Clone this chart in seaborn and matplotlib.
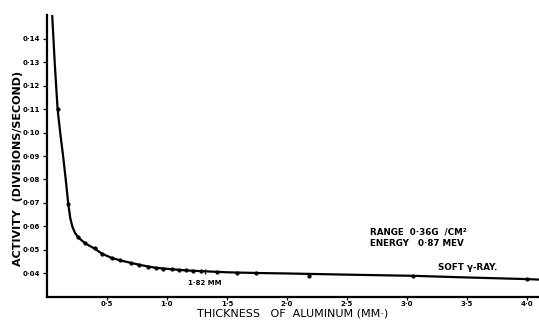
import matplotlib
matplotlib.use("Agg")
import matplotlib.pyplot as plt
import seaborn as sns
import pandas as pd

# Smooth absorption curve
curve_x = [0.044, 0.066, 0.089, 0.112, 0.135, 0.157, 0.178, 0.195, 0.213, 0.235,
           0.26, 0.32, 0.40, 0.46, 0.54, 0.61, 0.70, 0.77, 0.84,
           0.91, 1.04, 1.16, 1.28, 1.50, 1.75, 2.00, 2.50, 3.05, 3.50, 4.00, 4.10]
curve_y = [0.150, 0.129, 0.110, 0.0995, 0.090, 0.080, 0.0696, 0.0635, 0.0598, 0.0572,
           0.0554, 0.0528, 0.0505, 0.0484, 0.0466, 0.0456, 0.0445,
           0.0437, 0.0430, 0.0424, 0.0418, 0.0413, 0.0410, 0.0405, 0.0402, 0.0400,
           0.0395, 0.0390, 0.0383, 0.0376, 0.0374]

# Measured points
pts_x = [0.089, 0.178, 0.26, 0.317, 0.40, 0.46, 0.54, 0.61, 0.70, 0.77, 0.84,
         0.91, 0.97, 1.04, 1.10, 1.16, 1.22, 1.28, 1.42, 1.58, 1.74, 2.18, 3.05, 4.00]
pts_y = [0.110, 0.0696, 0.0554, 0.0528, 0.0507, 0.0484, 0.0466, 0.0456, 0.0444,
         0.0437, 0.0429, 0.0423, 0.0420, 0.0418, 0.0415, 0.0413, 0.0411, 0.0410,
         0.0407, 0.0404, 0.0402, 0.0391, 0.0389, 0.0376]

y_ticks = [0.04, 0.05, 0.06, 0.07, 0.08, 0.09, 0.10, 0.11, 0.12, 0.13, 0.14]
y_labels = ["0·04", "0·05", "0·06", "0·07", "0·08", "0·09", "0·10", "0·11", "0·12", "0·13", "0·14"]
x_ticks = [0.5, 1.0, 1.5, 2.0, 2.5, 3.0, 3.5, 4.0]
x_labels = ["0·5", "1·0", "1·5", "2·0", "2·5", "3·0", "3·5", "4·0"]

half_x = 1.32
half_label = "1·82 MM"

sns.set_theme(style="white")
plt.rcParams["font.family"] = ["DejaVu Sans"]
plt.rcParams["text.color"] = "black"
plt.rcParams["xtick.color"] = "black"
plt.rcParams["ytick.color"] = "black"

fig = plt.figure(figsize=(5.39, 3.2), dpi=100)
ax = fig.add_axes([0.087, 0.072, 0.913, 0.881])

curve = pd.DataFrame({"x": curve_x, "y": curve_y})
pts = pd.DataFrame({"x": pts_x, "y": pts_y})

sns.lineplot(data=curve, x="x", y="y", ax=ax, color="black", lw=1.6,
             sort=False, estimator=None)
sns.scatterplot(data=pts, x="x", y="y", ax=ax, color="black", s=7,
                edgecolor="black", linewidth=0.3, zorder=3)
ax.vlines(half_x, 0.0398, 0.0420, color="black", lw=0.9)

ax.set_xlim(0, 4.1)
ax.set_ylim(0.03, 0.15)

for s in ["top", "right"]:
    ax.spines[s].set_visible(False)
for s in ["left", "bottom"]:
    ax.spines[s].set_color("black")
    ax.spines[s].set_linewidth(1.6)

ax.set_yticks(y_ticks)
ax.set_yticklabels(y_labels, fontsize=5, fontweight="bold", color="black")
ax.set_xticks(x_ticks)
ax.set_xticklabels(x_labels, fontsize=5, fontweight="bold", color="black")
ax.tick_params(axis="y", direction="out", length=3, width=0.9, color="black",
               left=True, pad=2)
ax.tick_params(axis="x", direction="out", length=2.5, width=0.9, color="black",
               bottom=True, pad=0.5)

ax.set_xlabel("")
ax.set_ylabel("")
fig.text(293 / 539, 1 - 314 / 320, "THICKNESS   OF  ALUMINUM (MM·)",
         fontsize=8, ha="center", va="center", color="black")
fig.text(18 / 539, 1 - 168 / 320, "ACTIVITY  (DIVISIONS/SECOND)",
         fontsize=8, fontweight="bold", rotation=90, ha="center", va="center",
         color="black")

ax.text(2.69, 0.0575, "RANGE  0·36G  /CM²", fontsize=6.3, fontweight="bold",
        va="center", color="black")
ax.text(2.69, 0.0529, "ENERGY   0·87 MEV", fontsize=6.3, fontweight="bold",
        va="center", color="black")
ax.text(3.26, 0.0425, "SOFT γ-RAY.", fontsize=6.3, fontweight="bold",
        va="center", color="black")
ax.text(1.175, 0.0359, half_label, fontsize=5, fontweight="bold", va="center",
        color="black")

fig.savefig("out.png", dpi=100)
